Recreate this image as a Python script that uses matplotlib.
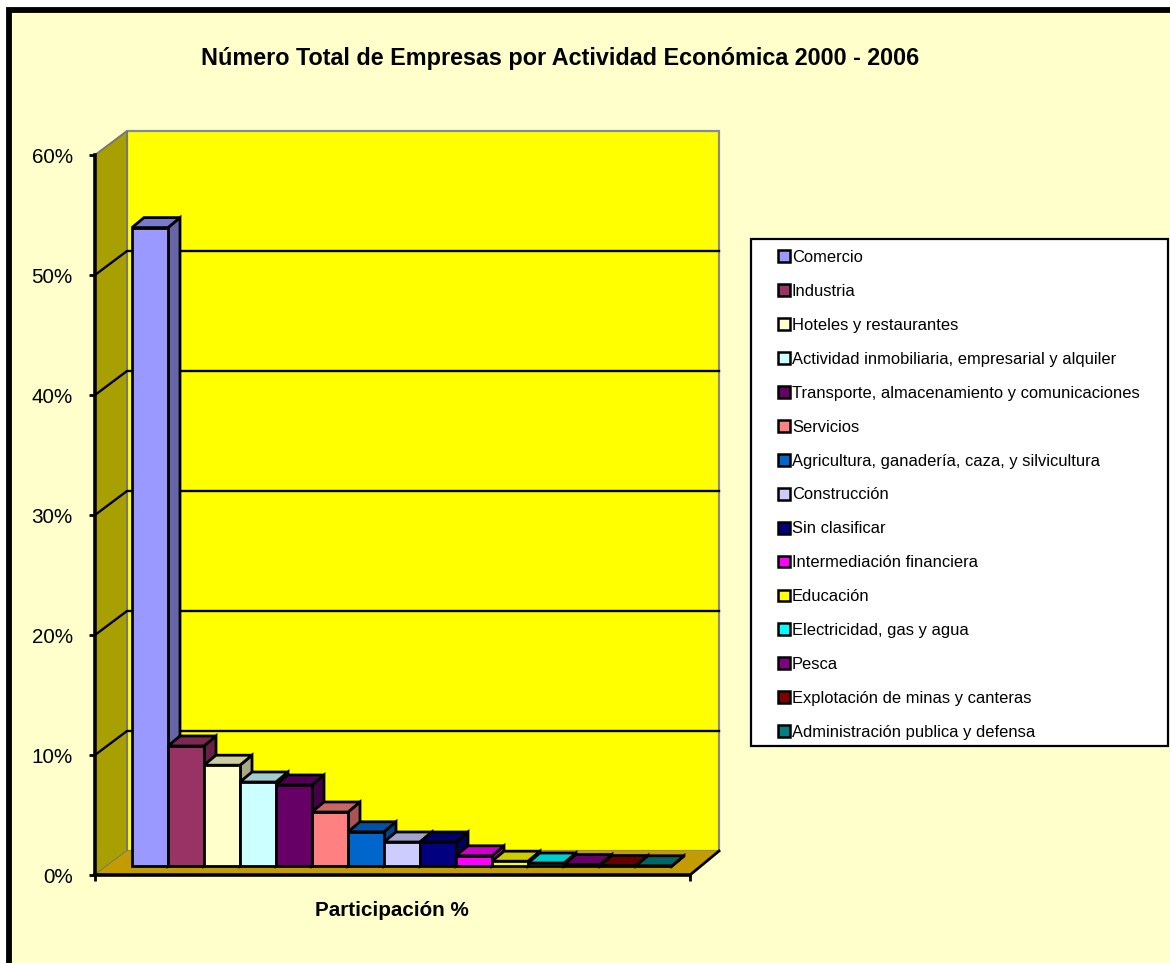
import matplotlib
matplotlib.use('Agg')
import matplotlib.pyplot as plt
from matplotlib.patches import Polygon, Patch, Rectangle
from matplotlib.ticker import FuncFormatter
from matplotlib.colors import to_rgb

plt.rcParams['font.family'] = ['Liberation Sans', 'DejaVu Sans']

actividades = ['Comercio', 'Industria', 'Hoteles y restaurantes',
               'Actividad inmobiliaria, empresarial y alquiler',
               'Transporte, almacenamiento y comunicaciones', 'Servicios',
               'Agricultura, ganadería, caza, y silvicultura', 'Construcción',
               'Sin clasificar', 'Intermediación financiera', 'Educación',
               'Electricidad, gas y agua', 'Pesca',
               'Explotación de minas y canteras', 'Administración publica y defensa']
participacion = [53.2, 10.0, 8.4, 7.0, 6.75, 4.5, 2.85, 2.0, 2.0, 0.85, 0.4, 0.25, 0.12, 0.04, 0.02]
colores = ['#9999FF', '#993366', '#FFFFCC', '#CCFFFF', '#660066', '#FF8080', '#0066CC', '#CCCCFF',
           '#000080', '#FF00FF', '#FFFF00', '#00FFFF', '#800080', '#800000', '#008080']
y_ticks = [0, 10, 20, 30, 40, 50, 60]

W, H = 1170, 963
fig = plt.figure(figsize=(W / 100, H / 100), dpi=100, facecolor='white')

# marco de la pagina
fig.add_artist(Rectangle((9 / W, -0.01), 1.1, 1 - 9.5 / H + 0.01, transform=fig.transFigure,
                         facecolor='#FFFFCC', edgecolor='black', linewidth=4.2, zorder=-1))

# ejes: 12 px por punto, 36 px por barra
ax = fig.add_axes([95 / W, 1 - 875 / H, 595 / W, 720 / H])
ax.patch.set_alpha(0)
ax.set_xlim(-37 / 36, 558 / 36)
ax.set_ylim(0, 60)

# profundidad de la caja y de las barras (en unidades de datos)
dxl, dxr, dy = 32 / 36, 29 / 36, 24 / 12
bx, by = 12 / 36, 10 / 12
base = 9 / 12
x0, x1 = ax.get_xlim()


def poly(pts, **kw):
    ax.add_patch(Polygon(pts, closed=True, clip_on=False, **kw))


poly([(x0 + dxl, dy), (x1 + dxr, dy), (x1 + dxr, 60 + dy), (x0 + dxl, 60 + dy)],
     facecolor='#FFFF00', edgecolor='#8A8A8A', linewidth=1.6, zorder=1)
poly([(x0, 0), (x0 + dxl, dy), (x0 + dxl, 60 + dy), (x0, 60)],
     facecolor='#A8A000', edgecolor='#777777', linewidth=1.4, zorder=1.1)
poly([(x0, 0), (x1, 0), (x1 + dxr, dy), (x0 + dxl, dy)],
     facecolor='#C49C00', edgecolor='none', zorder=1.2)

for t in y_ticks[1:-1]:
    ax.plot([x0, x0 + dxl, x1 + dxr], [t, t + dy, t + dy], color='black', linewidth=1.7,
            clip_on=False, zorder=1.5, solid_joinstyle='miter')
ax.plot([x1, x1 + dxr], [0, dy], color='black', linewidth=2, clip_on=False, zorder=1.5)

# barras
for i, (v, c) in enumerate(zip(participacion, colores)):
    z = 2 + i * 0.01
    r, g, b = to_rgb(c)
    top = (r * 0.8, g * 0.8, b * 0.8)
    side = (r * 0.66, g * 0.66, b * 0.66)
    l, d = i, base
    estilo = dict(edgecolor='black', linewidth=2.0, joinstyle='miter', zorder=z)
    poly([(l + 1, d), (l + 1 + bx, d + by), (l + 1 + bx, d + by + v), (l + 1, d + v)], facecolor=side, **estilo)
    poly([(l, d + v), (l + bx, d + v + by), (l + 1 + bx, d + v + by), (l + 1, d + v)], facecolor=top, **estilo)
    poly([(l, d), (l + 1, d), (l + 1, d + v), (l, d + v)], facecolor=c, **estilo)

for s in ['top', 'right']:
    ax.spines[s].set_visible(False)
for s in ['left', 'bottom']:
    ax.spines[s].set_linewidth(2.6)
    ax.spines[s].set_zorder(5)
ax.set_yticks(y_ticks)
ax.yaxis.set_major_formatter(FuncFormatter(lambda v, p: '%d%%' % v))
ax.set_xticks([x0, x1])
ax.set_xticklabels(['', ''])
ax.tick_params(axis='y', length=4.5, width=2, labelsize=14.9, pad=11.5, zorder=5)
ax.tick_params(axis='x', length=4.5, width=2)

fig.text(560 / W, 1 - 58 / H, 'Número Total de Empresas por Actividad Económica 2000 - 2006',
         ha='center', va='center', fontsize=16.8, fontweight='bold')
fig.text(392 / W, 1 - 910 / H, 'Participación %', ha='center', va='center',
         fontsize=14.9, fontweight='bold')

# leyenda: el cuadro va aparte porque tiene mas margen a los lados que arriba
fig.add_artist(Rectangle((751 / W, 1 - 746 / H), 417 / W, 507 / H, transform=fig.transFigure,
                         facecolor='white', edgecolor='black', linewidth=1.6, zorder=3))
handles = [Patch(facecolor=c, edgecolor='black', linewidth=1.8) for c in colores]
leg = fig.legend(handles, actividades, loc='upper left',
                 bbox_to_anchor=(778 / W, 1 - 250 / H), bbox_transform=fig.transFigure,
                 fontsize=11.9, ncol=1, frameon=False, handlelength=0.72, handleheight=0.72,
                 handletextpad=0.12, labelspacing=1.145, borderpad=0, borderaxespad=0)

fig.savefig('out.png', dpi=100, facecolor=fig.get_facecolor())
